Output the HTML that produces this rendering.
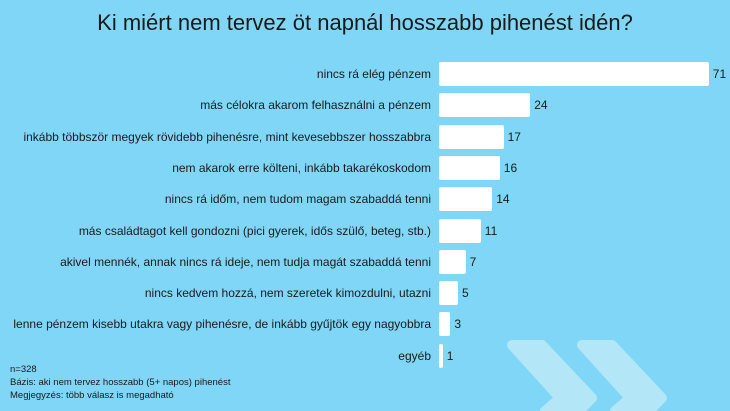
<!DOCTYPE html>
<html><head><meta charset="utf-8"><style>
html,body{margin:0;width:730px;height:411px;overflow:hidden}
body{background:#7fd6f6;position:relative;font-family:"Liberation Sans",sans-serif;color:#1a1a1a}
svg{position:absolute;left:0;top:0}
.t{position:absolute;left:0;width:730px;text-align:center;top:10px;font-size:22px}
.l{position:absolute;right:299px;font-size:12px;white-space:nowrap;transform:translateY(-50%)}
.b{position:absolute;left:439px;height:24px;background:#fff;border-radius:2px;transform:translateY(-50%)}
.v{position:absolute;font-size:12px;transform:translateY(-50%)}
.n{position:absolute;left:10px;font-size:9.5px;line-height:13px;top:363px}
</style></head><body>
<svg width="730" height="411" viewBox="0 0 730 411"><g fill="#b3e7f8" stroke="#b3e7f8" stroke-width="10" stroke-linejoin="round">
<polygon points="512,345 542,345 592,398 579,411 545,411 560,398"/>
<polygon points="582,345 612,345 662,398 649,411 615,411 630,398"/></g></svg>
<div class="t">Ki miért nem tervez öt napnál hosszabb pihenést idén?</div>
<div id="c"></div>
<div class="n">n=328<br>Bázis: aki nem tervez hosszabb (5+ napos) pihenést<br>Megjegyzés: több válasz is megadható</div>
<script>
var d=[["nincs rá elég pénzem",71],["más célokra akarom felhasználni a pénzem",24],["inkább többször megyek rövidebb pihenésre, mint kevesebbszer hosszabbra",17],["nem akarok erre költeni, inkább takarékoskodom",16],["nincs rá időm, nem tudom magam szabaddá tenni",14],["más családtagot kell gondozni (pici gyerek, idős szülő, beteg, stb.)",11],["akivel mennék, annak nincs rá ideje, nem tudja magát szabaddá tenni",7],["nincs kedvem hozzá, nem szeretek kimozdulni, utazni",5],["lenne pénzem kisebb utakra vagy pihenésre, de inkább gyűjtök egy nagyobbra",3],["egyéb",1]];
var h="";d.forEach(function(r,i){var y=74+i*31.3,w=r[1]*3.8;
h+='<div class="l" style="top:'+y+'px">'+r[0]+'</div><div class="b" style="top:'+y+'px;width:'+w+'px"></div><div class="v" style="top:'+y+'px;left:'+(439+w+4)+'px">'+r[1]+'</div>';});
document.getElementById("c").innerHTML=h;
</script>
</body></html>
